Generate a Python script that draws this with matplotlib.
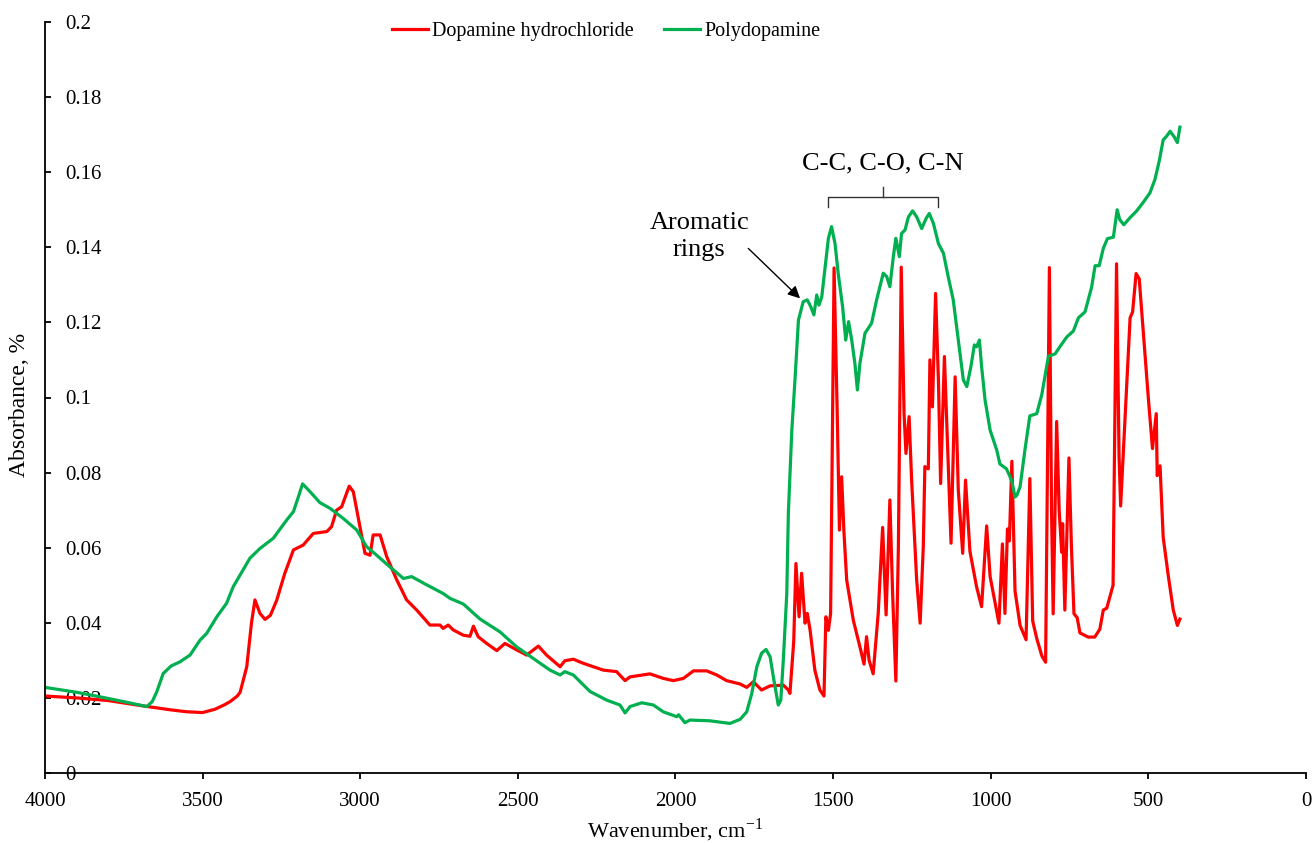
import matplotlib
matplotlib.use("Agg")
import matplotlib.pyplot as plt

# ---------------- data ----------------
dopa_wn = [4000, 3900, 3800, 3700, 3650, 3600, 3550, 3500, 3460, 3430, 3413, 3390, 3381, 3360,
           3345, 3334, 3318, 3302, 3285, 3265, 3240, 3212, 3181, 3149, 3106, 3091, 3075, 3059,
           3035, 3022, 3001, 2985, 2969, 2959, 2937, 2916, 2884, 2853, 2821, 2779, 2747, 2737,
           2721, 2705, 2673, 2652, 2641, 2626, 2599, 2567, 2541, 2504, 2472, 2435, 2409, 2366,
           2351, 2324, 2292, 2229, 2187, 2160, 2144, 2081, 2039, 2007, 1975, 1943, 1901, 1869,
           1838, 1795, 1774, 1753, 1727, 1700, 1658, 1642, 1637, 1625, 1618, 1608, 1600, 1589,
           1582, 1573, 1558, 1542, 1529, 1523, 1515, 1508, 1497, 1487, 1480, 1473, 1466, 1457,
           1436, 1415, 1402, 1394, 1386, 1373, 1357, 1343, 1332, 1320, 1311, 1301, 1293, 1284,
           1275, 1269, 1259, 1251, 1235, 1224, 1214, 1209, 1198, 1193, 1185, 1175, 1166, 1159,
           1147, 1135, 1126, 1113, 1103, 1089, 1080, 1066, 1045, 1029, 1013, 1002, 974, 963,
           955, 947, 941, 933, 923, 907, 888, 876, 867, 854, 838, 826, 814, 807, 802, 791, 783,
           775, 772, 765, 752, 744, 736, 726, 717, 691, 670, 654, 643, 632, 612, 601, 593, 588,
           574, 558, 550, 539, 529, 516, 500, 487, 475, 472, 463, 453, 437, 421, 408, 400]
dopa_abs = [0.0205, 0.0200, 0.0193, 0.0180, 0.0174, 0.0168, 0.0163, 0.0161, 0.0170, 0.0182, 0.0190,
            0.0205, 0.0215, 0.0283, 0.0400, 0.0461, 0.0425, 0.0409, 0.0420, 0.0460, 0.0530, 0.0594,
            0.0607, 0.0638, 0.0643, 0.0656, 0.0700, 0.0709, 0.0764, 0.0749, 0.0656, 0.0585, 0.0580,
            0.0634, 0.0634, 0.0576, 0.0514, 0.0461, 0.0434, 0.0394, 0.0394, 0.0385, 0.0394, 0.0381,
            0.0367, 0.0364, 0.0391, 0.0363, 0.0345, 0.0326, 0.0345, 0.0328, 0.0314, 0.0338, 0.0314,
            0.0283, 0.0299, 0.0303, 0.0292, 0.0274, 0.0270, 0.0246, 0.0256, 0.0264, 0.0252, 0.0246,
            0.0252, 0.0272, 0.0272, 0.0261, 0.0246, 0.0237, 0.0228, 0.0243, 0.0221, 0.0232, 0.0234,
            0.0221, 0.0212, 0.0350, 0.0558, 0.0416, 0.0532, 0.0399, 0.0425, 0.0380, 0.0274, 0.0221,
            0.0205, 0.0416, 0.0380, 0.0425, 0.1345, 0.0958, 0.0647, 0.0789, 0.0647, 0.0514, 0.0407,
            0.0336, 0.0290, 0.0363, 0.0301, 0.0264, 0.0425, 0.0654, 0.0421, 0.0727, 0.0470, 0.0245,
            0.0603, 0.1347, 0.0958, 0.0851, 0.0949, 0.0780, 0.0514, 0.0399, 0.0603, 0.0816, 0.0810,
            0.1100, 0.0975, 0.1277, 0.1047, 0.0771, 0.1109, 0.0825, 0.0612, 0.1055, 0.0754, 0.0585,
            0.0780, 0.0590, 0.0496, 0.0443, 0.0658, 0.0523, 0.0399, 0.0610, 0.0425, 0.0650, 0.0618,
            0.0830, 0.0485, 0.0393, 0.0355, 0.0784, 0.0405, 0.0358, 0.0312, 0.0295, 0.1346, 0.0690,
            0.0424, 0.0936, 0.0700, 0.0588, 0.0664, 0.0434, 0.0839, 0.0600, 0.0424, 0.0414, 0.0373,
            0.0362, 0.0362, 0.0383, 0.0434, 0.0439, 0.0500, 0.1356, 0.0844, 0.0711, 0.0946, 0.1212,
            0.1228, 0.1330, 0.1316, 0.1172, 0.0997, 0.0864, 0.0957, 0.0792, 0.0818, 0.0628, 0.0526,
            0.0434, 0.0393, 0.0410]

pda_wn = [4000, 3900, 3826, 3750, 3677, 3660, 3646, 3625, 3600, 3572, 3540, 3508, 3487, 3455,
          3424, 3403, 3350, 3318, 3276, 3233, 3212, 3196, 3183, 3159, 3128, 3096, 3054, 3011,
          2980, 2948, 2906, 2863, 2837, 2789, 2737, 2715, 2673, 2620, 2557, 2504, 2451, 2398,
          2366, 2351, 2324, 2271, 2218, 2176, 2160, 2144, 2107, 2070, 2039, 1996, 1990, 1970,
          1954, 1891, 1827, 1795, 1774, 1758, 1742, 1727, 1713, 1700, 1688, 1674, 1666, 1658,
          1647, 1642, 1631, 1621, 1610, 1595, 1582, 1571, 1561, 1552, 1545, 1536, 1523, 1515,
          1505, 1494, 1484, 1470, 1460, 1451, 1441, 1431, 1423, 1415, 1399, 1378, 1362, 1341,
          1330, 1320, 1309, 1301, 1290, 1283, 1272, 1261, 1248, 1235, 1219, 1205, 1195, 1182,
          1166, 1150, 1135, 1119, 1103, 1087, 1076, 1063, 1052, 1045, 1036, 1029, 1018, 1002,
          981, 971, 950, 934, 923, 917, 907, 891, 876, 854, 838, 817, 796, 780, 759, 738, 722,
          701, 680, 669, 656, 643, 630, 611, 599, 591, 578, 558, 537, 516, 495, 479, 465, 453,
          442, 431, 418, 408, 400]
pda_abs = [0.0228, 0.0215, 0.0203, 0.0190, 0.0177, 0.0190, 0.0215, 0.0265, 0.0285, 0.0296, 0.0314,
           0.0354, 0.0372, 0.0416, 0.0452, 0.0496, 0.0572, 0.0598, 0.0625, 0.0674, 0.0696, 0.0736,
           0.0770, 0.0749, 0.0720, 0.0705, 0.0678, 0.0647, 0.0603, 0.0580, 0.0549, 0.0518, 0.0523,
           0.0501, 0.0478, 0.0465, 0.0450, 0.0410, 0.0376, 0.0336, 0.0305, 0.0274, 0.0261, 0.0270,
           0.0261, 0.0217, 0.0194, 0.0181, 0.0160, 0.0177, 0.0187, 0.0181, 0.0163, 0.0150, 0.0155,
           0.0134, 0.0141, 0.0139, 0.0132, 0.0143, 0.0163, 0.0212, 0.0283, 0.0319, 0.0329, 0.0310,
           0.0248, 0.0181, 0.0194, 0.0301, 0.0478, 0.0692, 0.0913, 0.1047, 0.1206, 0.1255, 0.1260,
           0.1242, 0.1220, 0.1273, 0.1246, 0.1268, 0.1366, 0.1424, 0.1455, 0.1410, 0.1331, 0.1242,
           0.1153, 0.1202, 0.1153, 0.1091, 0.1020, 0.1091, 0.1171, 0.1198, 0.1260, 0.1331, 0.1322,
           0.1295, 0.1375, 0.1424, 0.1375, 0.1437, 0.1446, 0.1481, 0.1497, 0.1481, 0.1450, 0.1477,
           0.1490, 0.1464, 0.1410, 0.1384, 0.1322, 0.1260, 0.1153, 0.1047, 0.1029, 0.1082, 0.1140,
           0.1135, 0.1153, 0.1082, 0.0993, 0.0913, 0.0860, 0.0823, 0.0810, 0.0780, 0.0735, 0.0740,
           0.0762, 0.0864, 0.0951, 0.0957, 0.1008, 0.1110, 0.1116, 0.1136, 0.1161, 0.1177, 0.1212,
           0.1228, 0.1294, 0.1351, 0.1351, 0.1397, 0.1423, 0.1427, 0.1500, 0.1474, 0.1460, 0.1479,
           0.1497, 0.1520, 0.1545, 0.1581, 0.1632, 0.1686, 0.1696, 0.1709, 0.1694, 0.1679, 0.1720]

series_names = ["Dopamine hydrochloride", "Polydopamine"]
x_ticks = [4000, 3500, 3000, 2500, 2000, 1500, 1000, 500, 0]
y_ticks = [0, 0.02, 0.04, 0.06, 0.08, 0.1, 0.12, 0.14, 0.16, 0.18, 0.2]
y_tick_labels = ["0", "0.02", "0.04", "0.06", "0.08", "0.1", "0.12", "0.14", "0.16", "0.18", "0.2"]

# ---------------- style ----------------
plt.rcParams['font.family'] = ['Liberation Serif', 'DejaVu Serif']
plt.rcParams['mathtext.fontset'] = 'custom'
plt.rcParams['mathtext.rm'] = 'Liberation Serif'

RED = '#FF0000'
GREEN = '#00B050'

W, H = 1312, 843
fig = plt.figure(figsize=(W / 100, H / 100), dpi=100)
ax = fig.add_axes([45 / W, 70 / H, 1261 / W, 751 / H])

ax.plot(dopa_wn, dopa_abs, color=RED, lw=2.3, label=series_names[0], solid_joinstyle='round')
ax.plot(pda_wn, pda_abs, color=GREEN, lw=2.3, label=series_names[1], solid_joinstyle='round')

ax.set_xlim(4000, 0)
ax.set_ylim(0, 0.2)
ax.set_xticks(x_ticks)
ax.set_xticklabels([str(t) for t in x_ticks])
ax.set_yticks(y_ticks)
ax.set_yticklabels(y_tick_labels)

for s in ['top', 'right']:
    ax.spines[s].set_visible(False)
for s in ['left', 'bottom']:
    ax.spines[s].set_linewidth(1.3)
    ax.spines[s].set_color('black')

ax.tick_params(axis='x', direction='out', length=4.5, width=1.3, labelsize=15, pad=9)
ax.tick_params(axis='y', direction='in', length=4.5, width=1.3, labelsize=15, pad=-14.5)
for lbl in ax.get_yticklabels():
    lbl.set_horizontalalignment('left')

leg = ax.legend(loc='center', bbox_to_anchor=(0.445, 0.988), ncol=2, frameon=False,
                fontsize=14.5, handlelength=1.8, handletextpad=0.2, columnspacing=1.5)

# axis labels
fig.text(20 / W, 1 - 405 / H, 'Absorbance, %', rotation=90, ha='center', va='center', fontsize=17)
fig.text(675 / W, 1 - 830 / H, r'Wavenumber, cm$^{\mathregular{-1}}$', ha='center', va='center', fontsize=16)

# annotations
ax.plot([1515, 1515, 1168, 1168], [0.1508, 0.1535, 0.1535, 0.1508], color='#333333', lw=1.0)
ax.plot([1342, 1342], [0.1535, 0.1561], color='#333333', lw=1.0)
ax.text(1342, 0.1624, 'C-C, C-O, C-N', ha='center', va='center', fontsize=19)
ax.text(1925, 0.1428, 'Aromatic\nrings', ha='center', va='center', fontsize=19, linespacing=1.3)
ax.annotate('', xy=(1605, 0.1264), xytext=(1769, 0.1397),
            arrowprops=dict(arrowstyle='-|>', color='black', lw=1.0, mutation_scale=18,
                            shrinkA=0, shrinkB=0))

fig.savefig('out.png', dpi=100)
